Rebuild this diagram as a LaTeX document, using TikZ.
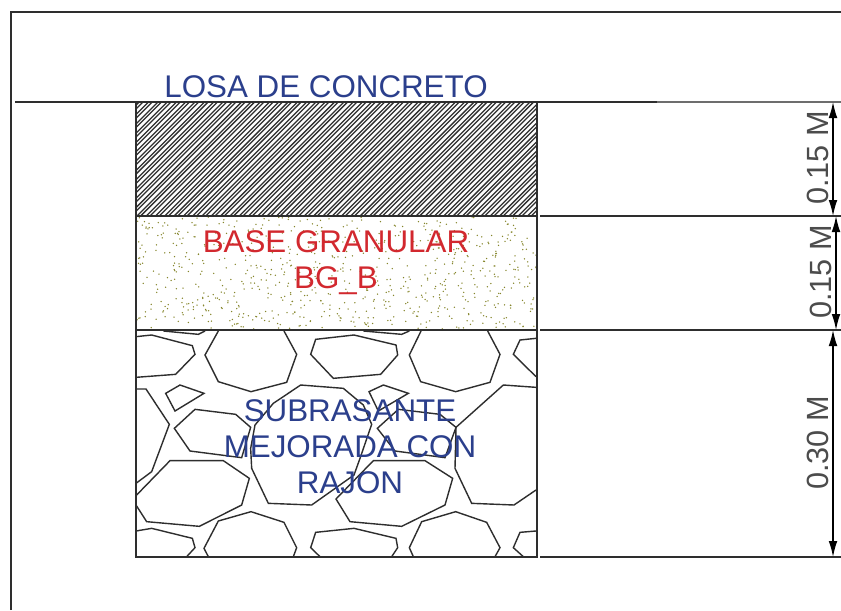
\documentclass[tikz,border=0pt]{standalone}
\usepackage{fontspec}
\setmainfont{Liberation Sans}
\usetikzlibrary{arrows.meta}
\definecolor{azul}{HTML}{2B3F8C}
\definecolor{rojo}{HTML}{D2282E}
\definecolor{tinta}{HTML}{2E2E2E}
\definecolor{arena}{HTML}{85852A}
\tikzset{
  Linea/.style={draw=tinta,line width=1.3pt},
  Roca/.style={draw=tinta,line width=1.05pt,line join=miter},
  Hatch/.style={draw=tinta,line width=.95pt},
  Cota/.style={black,line width=1pt,{Latex[length=12pt,width=6.5pt]}-{Latex[length=12pt,width=6.5pt]}},
  CotaText/.style={rotate=90,text=black!70,font=\fontsize{23}{23}\selectfont,inner sep=0pt},
  Titulo/.style={align=center,font=\fontsize{23.5}{27}\selectfont,inner sep=0pt}
}
\begin{document}
\begin{tikzpicture}[x=.75pt,y=-.75pt]
\useasboundingbox (0,0) rectangle (841,610);
\fill[white] (0,0) rectangle (841,610);

%Puntos de referencia
\coordinate (A) at (136,102);
\coordinate (B) at (537,216);
\coordinate (C) at (136,330);
\coordinate (D) at (537,557);

%Losa
\begin{scope}
\clip (A) rectangle (B);
\foreach \k in {-120,-110.7,...,420}{%
  \draw[Hatch] (136+\k,216) -- (250+\k,102);
  \draw[Hatch] (139.7+\k,216) -- (253.7+\k,102);
}
\end{scope}

%Base granular
\begin{scope}
\clip (136,217) rectangle (537,329);
\pgfmathsetseed{4711}
\foreach \k in {1,...,750}{%
  \pgfmathsetmacro{\px}{136+401*rnd}
  \pgfmathsetmacro{\py}{217+112*rnd}
  \fill[arena] (\px,\py) circle (.75);
}
\end{scope}

%Rocas
\begin{scope}[shift={(130,325)},x=.25pt,y=-.25pt]
\clip (18,15) rectangle (1220,696);
\draw[Roca] (18,35) -- (65,30) -- (187,62) -- (195,88) -- (137,148) -- (18,157);
\draw[Roca] (100,18) -- (205,28) -- (225,18);
\draw[Roca] (265,18) -- (225,90) -- (265,170) -- (363,200) -- (470,172) -- (500,88) -- (462,18);
\draw[Roca] (557,43) -- (672,30) -- (798,60) -- (803,90) -- (752,148) -- (610,160) -- (542,88) -- cycle;
\draw[Roca] (873,18) -- (838,90) -- (872,170) -- (977,200) -- (1080,172) -- (1110,88) -- (1073,18);
\draw[Roca] (1218,40) -- (1170,45) -- (1150,88) -- (1218,155);
\draw[Roca] (700,18) -- (815,28) -- (838,18);
\draw[Roca] (150,180) -- (222,205) -- (135,258) -- (107,205) -- cycle;
\draw[Roca] (18,192) -- (48,192) -- (118,298) -- (65,440) -- (18,475);
\draw[Roca] (195,253) -- (317,268) -- (362,307) -- (335,398) -- (180,378) -- (133,310) -- cycle;
\draw[Roca] (512,180) -- (640,190) -- (700,240) -- (725,298) -- (690,400) -- (672,450) -- (545,540) -- (415,535) -- (365,430) -- (362,370) -- (375,300) -- (430,235) -- cycle;
\draw[Roca] (760,180) -- (835,205) -- (745,258) -- (717,200) -- cycle;
\draw[Roca] (805,253) -- (930,268) -- (978,307) -- (945,398) -- (795,378) -- (742,310) -- cycle;
\draw[Roca] (1218,187) -- (1120,180) -- (978,307) -- (975,430) -- (1025,535) -- (1152,540) -- (1218,495);
\draw[Roca] (18,512) -- (120,407) -- (280,407) -- (358,460) -- (335,540) -- (208,604) -- (50,590) -- (18,540);
\draw[Roca] (730,407) -- (885,407) -- (968,460) -- (945,540) -- (815,604) -- (660,590) -- (618,522) -- cycle;
\draw[Roca] (18,618) -- (65,610) -- (187,640) -- (195,668) -- (170,695);
\draw[Roca] (235,695) -- (222,670) -- (265,588) -- (363,560) -- (462,592) -- (500,668) -- (490,695);
\draw[Roca] (570,695) -- (542,668) -- (557,622) -- (672,610) -- (798,640) -- (803,668) -- (785,695);
\draw[Roca] (850,695) -- (838,668) -- (875,590) -- (977,560) -- (1070,592) -- (1110,668) -- (1095,695);
\draw[Roca] (1218,618) -- (1170,622) -- (1150,668) -- (1180,695);
\end{scope}

%Contornos
\draw[Linea] (11,610) -- (11,12) -- (841,12);
\draw[Linea] (A) rectangle (D);
\draw[Linea] (136,216) -- (B);
\draw[Linea] (C) -- (537,330);
\draw[Linea] (15,102) -- (657,102);
\draw[tinta!70,line width=1pt] (657,102) -- (841,102);
\draw[Linea] (540,216) -- (841,216);
\draw[Linea] (540,330) -- (841,330);
\draw[Linea] (540,557) -- (841,557);

%Cotas
\coordinate (C1) at (833,102);
\coordinate (C2) at (833,216);
\coordinate (C3) at (836,216);
\coordinate (C4) at (836,330);
\coordinate (C5) at (833,330);
\coordinate (C6) at (833,557);
\draw[Cota] (C1) -- (C2);
\draw[Cota] (C3) -- (C4);
\draw[Cota] (C5) -- (C6);
\node[CotaText] (cota1) at (818,158) {0.15 M};
\node[CotaText] (cota2) at (821,272) {0.15 M};
\node[CotaText] (cota3) at (818,443) {0.30 M};

%Textos
\node[Titulo,text=azul] (losa) at (326,87) {LOSA DE CONCRETO};
\node[Titulo,text=rojo] (base) at (336,263) {BASE GRANULAR\\BG\_B};
\node[Titulo,text=azul] (sub) at (350,447) {SUBRASANTE\\MEJORADA CON\\RAJON};
\end{tikzpicture}
\end{document}
